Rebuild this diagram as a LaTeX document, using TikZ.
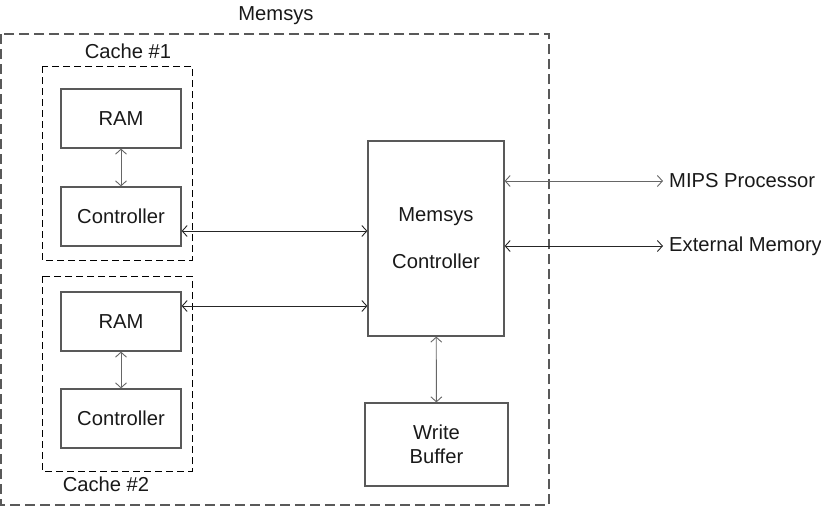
\documentclass[tikz,border=0pt]{standalone}
\usepackage{fontspec}
\setmainfont{Liberation Sans}
\usetikzlibrary{arrows.meta}
\begin{document}
\begin{tikzpicture}[x=1pt,y=-1pt,
  every node/.style={font=\fontsize{20.2}{23.5}\selectfont, text=black!90, inner sep=0pt},
  blk/.style={draw=black!65, line width=1.2pt, minimum width=120pt, minimum height=59pt, align=center},
  outerbox/.style={draw=black!65, line width=1.4pt, dash pattern=on 10pt off 5pt},
  cachebox/.style={draw=black, line width=1pt, dash pattern=on 7pt off 4pt},
  arr/.style={{Straight Barb[length=5pt,width=11pt]}-{Straight Barb[length=5pt,width=11pt]}, line width=0.9pt, draw=black!85},
  garr/.style={arr, draw=black!60}
]
\useasboundingbox (0,0) rectangle (821,507);
% containers
\draw[outerbox] (1,34) rectangle (549,505);
\draw[cachebox] (42,66) rectangle (192,260);
\draw[cachebox] (42,276) rectangle (192,471);
\node (lmem) at (276,16) {Memsys};
\node (lc1) at (128,51) {Cache \#1};
\node (lc2) at (106,484) {Cache \#2};
% blocks
\node[blk] (ram1) at (121,118.5) {RAM};
\node[blk] (ctl1) at (121,216.5) {Controller};
\node[blk] (ram2) at (121,321.5) {RAM};
\node[blk] (ctl2) at (121,418.5) {Controller};
\node[blk, minimum width=136pt, minimum height=195pt] (mc) at (436,238.5) {Memsys\\[23.5pt]Controller};
\node[blk, minimum width=143pt, minimum height=83pt] (wb) at (436.5,444.5) {Write\\[0.5pt]Buffer};
% external labels
\node[anchor=west] (mips) at (669,181) {MIPS Processor};
\node[anchor=west] (ext) at (669,246) {External Memory};
\coordinate (mipsend) at (663,181);
\coordinate (extend) at (663,246);
% connectors
\draw[garr] (ram1) -- (ctl1);
\draw[garr] (ram2) -- (ctl2);
\coordinate (a1) at ([yshift=-14.5pt]ctl1.east);
\draw[arr] (a1) -- (a1 -| mc.west);
\coordinate (a2) at ([yshift=15.5pt]ram2.east);
\draw[arr] (a2) -- (a2 -| mc.west);
\draw[garr] (mipsend -| mc.east) -- (mipsend);
\draw[arr] (extend -| mc.east) -- (extend);
\draw[garr] (mc) -- (wb);
\end{tikzpicture}
\end{document}
